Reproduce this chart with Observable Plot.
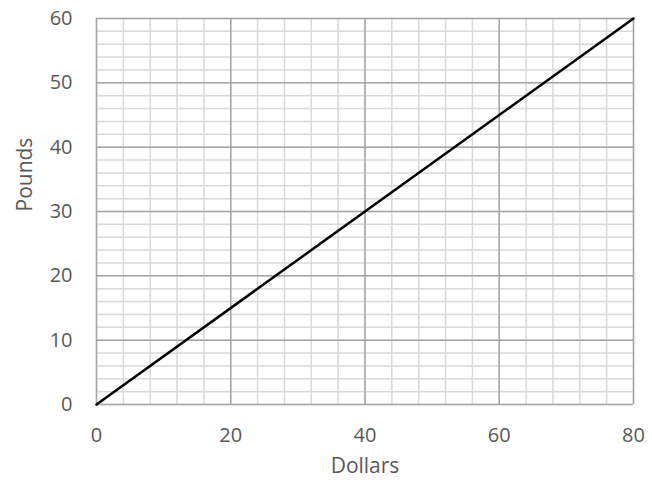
<!DOCTYPE html>
<html>
<head>
<meta charset="utf-8">
<script src="https://cdn.jsdelivr.net/npm/d3@7"></script>
<script src="https://cdn.jsdelivr.net/npm/@observablehq/plot@0.6"></script>
<style>
  html, body { margin: 0; padding: 0; background: #fff; }
  svg { display: block; }
</style>
</head>
<body>
<div id="chart"></div>
<script>
// Data
const dollars = [0, 80];
const pounds = [0, 60];
const xTicks = [0, 20, 40, 60, 80];
const yTicks = [0, 10, 20, 30, 40, 50, 60];
const xMinor = d3.range(0, 81, 4);
const yMinor = d3.range(0, 61, 2);
const xTitle = "Dollars";
const yTitle = "Pounds";

const rows = dollars.map((d, i) => ({dollars: d, pounds: pounds[i]}));

const chart = Plot.plot({
  width: 652,
  height: 484,
  marginLeft: 96,
  marginRight: 19,
  marginTop: 18,
  marginBottom: 80,
  style: {fontFamily: "'Open Sans', sans-serif", background: "#fff", color: "#595959"},
  x: {domain: [0, 80]},
  y: {domain: [0, 60]},
  marks: [
    Plot.ruleX(xMinor, {stroke: "#d9d9d9", strokeWidth: 1.5}),
    Plot.ruleY(yMinor, {stroke: "#d9d9d9", strokeWidth: 1.5}),
    Plot.ruleX(xTicks, {stroke: "#a6a6a6", strokeWidth: 1.5}),
    Plot.ruleY(yTicks, {stroke: "#a6a6a6", strokeWidth: 1.5}),
    Plot.axisX({ticks: xTicks, tickSize: 0, tickPadding: 23, fontSize: 20, fill: "#595959", label: null}),
    Plot.axisY({ticks: yTicks, tickSize: 0, tickPadding: 24, fontSize: 20, fill: "#595959", label: null}),
    Plot.line(rows, {x: "dollars", y: "pounds", stroke: "#000", strokeWidth: 2.5}),
    Plot.text([xTitle], {frameAnchor: "bottom", dy: 68, fontSize: 21, fill: "#595959", text: d => d}),
    Plot.text([yTitle], {frameAnchor: "left", dx: -71, rotate: -90, fontSize: 21, fill: "#595959", text: d => d})
  ]
});
document.getElementById("chart").appendChild(chart);
</script>
</body>
</html>
